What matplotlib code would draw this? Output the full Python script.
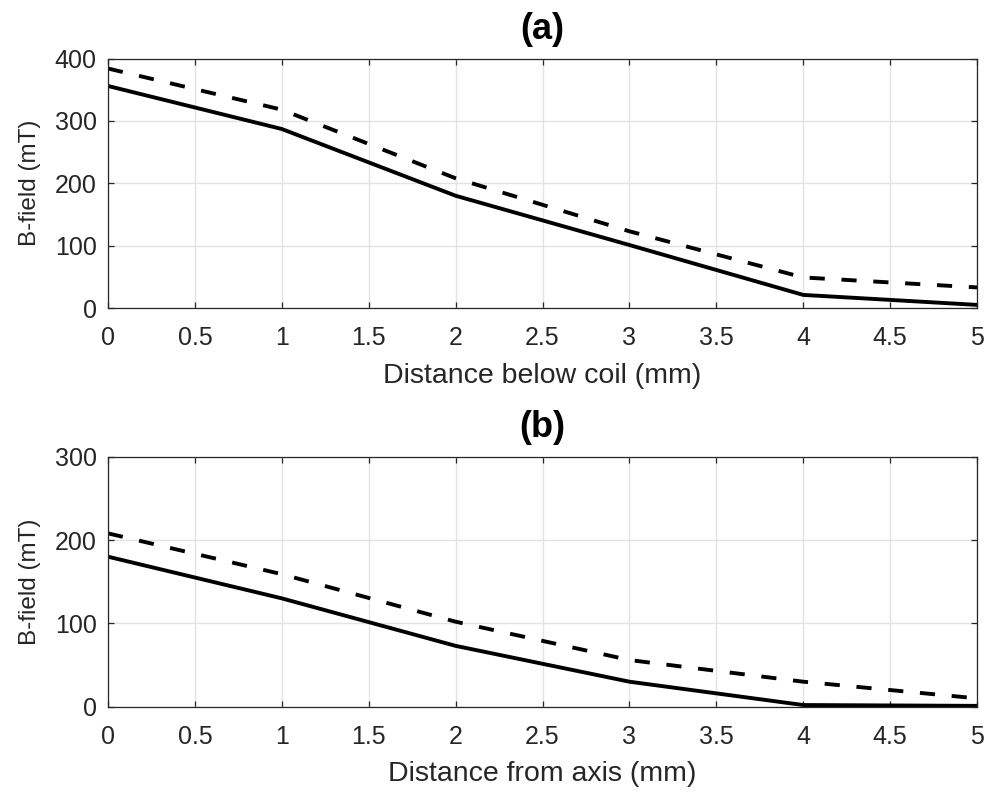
import matplotlib
matplotlib.use('agg')
import matplotlib.pyplot as plt

plt.rcParams['font.family'] = ['Liberation Sans', 'DejaVu Sans']

# field profiles, two cases each (solid / dashed)
dist = [0, 1, 2, 3, 4, 5]
below_solid = [356, 287, 180, 101, 21, 5]
below_dashed = [384, 318, 208, 123, 49, 33]
axis_solid = [180, 130, 73, 30, 2, 1]
axis_dashed = [208, 159, 102, 56, 30, 10]

xticks = [0, 0.5, 1, 1.5, 2, 2.5, 3, 3.5, 4, 4.5, 5]
xticklabels = ['0', '0.5', '1', '1.5', '2', '2.5', '3', '3.5', '4', '4.5', '5']

fig = plt.figure(figsize=(9.87, 7.92), dpi=100)
ax_a = fig.add_axes([0.1094, 0.6111, 0.8805, 0.3150])
ax_b = fig.add_axes([0.1094, 0.1077, 0.8805, 0.3157])

axcol = '#262626'


def style(ax, ymax, ystep, xlabel, title):
    ax.set_xlim(0, 5)
    ax.set_ylim(0, ymax)
    ax.set_xticks(xticks)
    ax.set_xticklabels(xticklabels)
    ax.set_yticks(range(0, ymax + 1, ystep))
    ax.grid(True, color='#e3e3e3', linewidth=1.0)
    ax.set_axisbelow(True)
    ax.tick_params(direction='in', top=True, right=True, length=4,
                   width=0.9, color=axcol, labelsize=18, labelcolor=axcol)
    ax.tick_params(axis='x', pad=13)
    ax.tick_params(axis='y', pad=8)
    for s in ax.spines.values():
        s.set_color(axcol)
        s.set_linewidth(0.9)
    ax.set_xlabel(xlabel, fontsize=20.5, color=axcol, labelpad=9)
    ax.set_ylabel('B-field (mT)', fontsize=17.5, color=axcol, labelpad=10)
    ax.set_title(title, fontsize=26, fontweight='bold', pad=14)


ax_a.plot(dist, below_solid, color='k', linewidth=2.8)
ax_a.plot(dist, below_dashed, color='k', linewidth=2.8, dashes=(3.9, 4.3))
style(ax_a, 400, 100, 'Distance below coil (mm)', '(a)')

ax_b.plot(dist, axis_solid, color='k', linewidth=2.8)
ax_b.plot(dist, axis_dashed, color='k', linewidth=2.8, dashes=(3.9, 4.3))
style(ax_b, 300, 100, 'Distance from axis (mm)', '(b)')

fig.savefig('out.png', dpi=100)
